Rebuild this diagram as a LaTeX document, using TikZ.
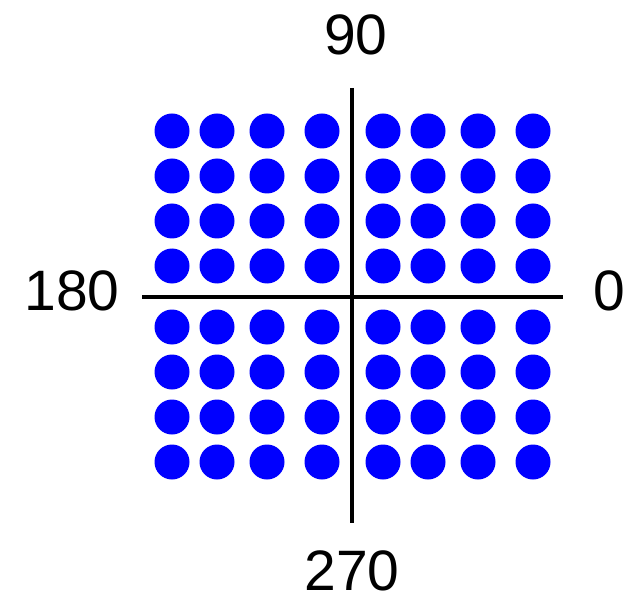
\documentclass[tikz,border=0pt]{standalone}
\usepackage{fontspec}
\setmainfont{Liberation Sans}
\usetikzlibrary{positioning}
\tikzset{
  axis/.style   = {line width=4pt, black},
  sym/.style    = {circle, fill=blue, inner sep=0pt, minimum size=35pt},
  lbl/.style    = {inner sep=0pt, font=\fontsize{57}{64}\selectfont},
}

\begin{document}
\begin{tikzpicture}[x=1pt,y=-1pt]
  \useasboundingbox (0,0) rectangle (628,601);
  % axes
  \coordinate (hl) at (142,297);
  \coordinate (hr) at (563,297);
  \coordinate (vt) at (352,88);
  \coordinate (vb) at (352,523);
  \draw[axis] (hl)--(hr);
  \draw[axis] (vt)--(vb);
  % constellation points
  \foreach \x [count=\i] in {172,217,267,322,383,428,478,533}
    \foreach \y [count=\j] in {131,176,221,266,327,372,417,462}
      \node[sym] (p\i\j) at (\x,\y) {};
  % phase labels
  \node[lbl] (l90)  at (356,34.5) {90};
  \node[lbl] (l180) at (72,291)   {180};
  \node[lbl] (l0)   at (609,291)  {0};
  \node[lbl] (l270) at (352,571)  {270};
\end{tikzpicture}
\end{document}
